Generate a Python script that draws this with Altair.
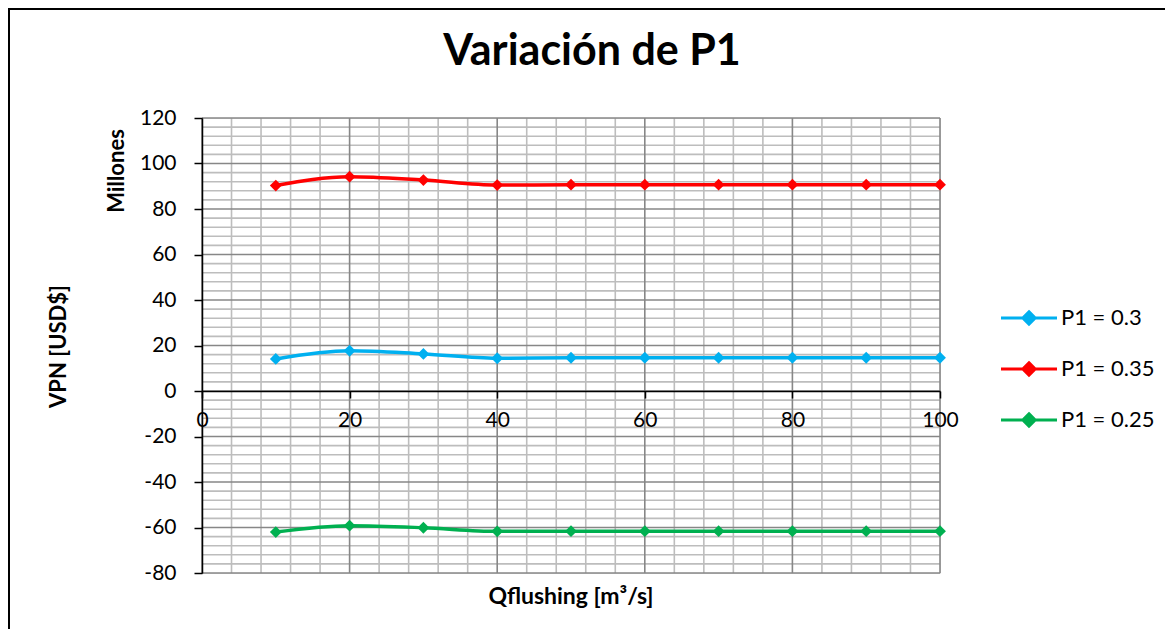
import altair as alt
import pandas as pd

# ---- data ----
q_values = [10, 20, 30, 40, 50, 60, 70, 80, 90, 100]
p1_030 = [14.1, 17.7, 16.3, 14.4, 14.6, 14.6, 14.6, 14.6, 14.6, 14.6]
p1_035 = [90.3, 94.2, 92.7, 90.5, 90.7, 90.7, 90.7, 90.7, 90.7, 90.7]
p1_025 = [-62.0, -59.2, -60.1, -61.7, -61.6, -61.6, -61.6, -61.6, -61.6, -61.6]
series_names = ["P1 = 0.3", "P1 = 0.35", "P1 = 0.25"]
series_colors = ["#00B0F0", "#FF0000", "#00B050"]

x_ticks = [0, 20, 40, 60, 80, 100]
y_ticks = [-80, -60, -40, -20, 0, 20, 40, 60, 80, 100, 120]
x_minor = [v for v in range(0, 101, 4) if v % 20 != 0]
y_minor = [v for v in range(-80, 121, 4) if v % 20 != 0]

title_text = "Variación de P1"
x_title = "Qflushing [m³/s]"
y_title = "VPN [USD$]"
unit_label = "Millones"

W, H = 738, 455
FONT = "Lato"

rows = []
for name, vals in zip(series_names, [p1_030, p1_035, p1_025]):
    for x, y in zip(q_values, vals):
        rows.append({"Q": x, "VPN": y, "serie": name})
df = pd.DataFrame(rows)

xs = alt.Scale(domain=[0, 100], nice=False, zero=False)
ys = alt.Scale(domain=[-80, 120], nice=False, zero=False)
color = alt.Color(
    "serie:N",
    scale=alt.Scale(domain=series_names, range=series_colors),
    legend=alt.Legend(
        title=None, orient="none", legendX=815, legendY=188,
        symbolType="M-2.8,0L2.8,0M0,-0.6L0.6,0L0,0.6L-0.6,0Z",
        symbolSize=400, symbolStrokeWidth=3.2,
        labelFont=FONT, labelFontSize=22, labelColor="#000000",
        labelOffset=20, rowPadding=25,
    ),
)

# grid lines
xgrid_minor = alt.Chart(pd.DataFrame({"v": x_minor})).mark_rule(color="#bdbdbd", strokeWidth=1.6).encode(
    x=alt.X("v:Q", scale=xs))
ygrid_minor = alt.Chart(pd.DataFrame({"v": y_minor})).mark_rule(color="#bdbdbd", strokeWidth=1.6).encode(
    y=alt.Y("v:Q", scale=ys))
xgrid_major = alt.Chart(pd.DataFrame({"v": x_ticks})).mark_rule(color="#878787", strokeWidth=1.6).encode(
    x=alt.X("v:Q", scale=xs))
ygrid_major = alt.Chart(pd.DataFrame({"v": y_ticks})).mark_rule(color="#878787", strokeWidth=1.6).encode(
    y=alt.Y("v:Q", scale=ys))

base = alt.Chart(df)
lines = base.mark_line(strokeWidth=3.5, interpolate="monotone").encode(
    x=alt.X("Q:Q", scale=xs, axis=alt.Axis(
        values=x_ticks, title=None, grid=False, offset=-182,
        labelExpr="toString(datum.value)",
        domainColor="#000000", domainWidth=1.5, tickColor="#000000", tickWidth=1.5,
        tickSize=7, labelFont=FONT, labelFontSize=21, labelColor="#000000",
        labelPadding=11, labelFlush=False, zindex=1)),
    y=alt.Y("VPN:Q", scale=ys, axis=alt.Axis(
        values=y_ticks, title=y_title, grid=False,
        labelExpr="toString(datum.value)",
        domainColor="#000000", domainWidth=1.5, tickColor="#000000", tickWidth=1.5,
        tickSize=8, labelFont=FONT, labelFontSize=21, labelColor="#000000",
        labelPadding=18, titleFont=FONT, titleFontSize=22, titleFontWeight="bold",
        titleColor="#000000", titleX=-144, titleY=228, titleAngle=270,
        titleAlign="center", titleBaseline="middle", zindex=1)),
    color=color,
)
points = base.mark_point(shape="diamond", filled=True, size=140, opacity=1).encode(
    x=alt.X("Q:Q", scale=xs), y=alt.Y("VPN:Q", scale=ys), color=color)

def label(text, x, y, size, angle=0, baseline="alphabetic"):
    return alt.Chart(pd.DataFrame({"t": [text]})).mark_text(
        font=FONT, fontSize=size, fontWeight="bold", color="#000000",
        angle=angle, align="center", baseline=baseline).encode(
        text="t:N", x=alt.value(x), y=alt.value(y))

title_mark = label(title_text, 390, -53, 43)
xtitle_mark = label(x_title, 369, 486, 23)
unit_mark = label(unit_label, -85, 53, 22, angle=270, baseline="middle")

border_top = alt.Chart(pd.DataFrame({"a": [0]})).mark_rule(color="#000000", strokeWidth=2).encode(
    x=alt.value(-194), x2=alt.value(1000), y=alt.value(-109))
border_left = alt.Chart(pd.DataFrame({"a": [0]})).mark_rule(color="#000000", strokeWidth=2).encode(
    x=alt.value(-193), y=alt.value(-110), y2=alt.value(520))

chart = alt.layer(
    xgrid_minor, ygrid_minor, xgrid_major, ygrid_major,
    lines, points, title_mark, xtitle_mark, unit_mark, border_top, border_left,
).properties(
    width=W, height=H,
    autosize=alt.AutoSizeParams(type="none"),
    padding={"left": 194, "top": 110, "right": 225, "bottom": 56},
).configure_view(stroke=None).configure(background="white")

chart.save("out.html", embed_options={"renderer": "svg", "actions": False})
